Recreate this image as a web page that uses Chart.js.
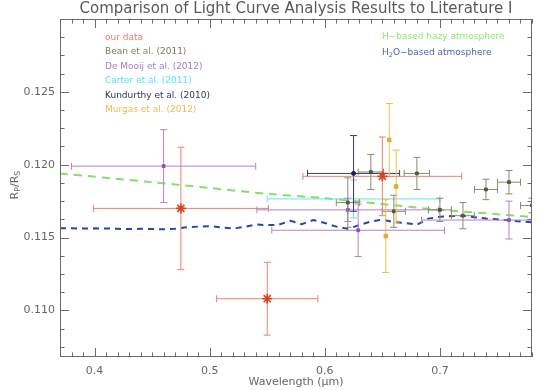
<!DOCTYPE html>
<html>
<head>
<meta charset="utf-8">
<script src="https://cdn.jsdelivr.net/npm/chart.js@4/dist/chart.umd.min.js"></script>
<style>
  html, body { margin: 0; padding: 0; background: #fff; }
  #wrap { width: 541px; height: 390px; }
</style>
</head>
<body>
<div id="wrap"><canvas id="myChart" width="541" height="390"></canvas></div>
<script>
// axis ranges and ticks
const xRange = [0.37, 0.78];
const yRange = [0.1068, 0.1300];
const xMajor = [0.4, 0.5, 0.6, 0.7];
const yMajor = [0.110, 0.115, 0.120, 0.125];
const xMinorStep = 0.01;
const yMinorStep = 0.00125;

// our data
const oursX = [0.475, 0.650, 0.550];
const oursY = [0.1170, 0.1192, 0.1108];
const oursXErr = [0.076, 0.069, 0.044];
const oursYErr = [0.0042, 0.0027, 0.0025];

// Bean et al. (2011)
const beanX = [0.640, 0.680, 0.620, 0.660, 0.700, 0.720, 0.740, 0.760, 0.780];
const beanY = [0.1195, 0.1194, 0.1174, 0.1168, 0.1169, 0.1165, 0.1183, 0.1188, 0.1172];
const beanXErr = [0.011, 0.011, 0.010, 0.010, 0.010, 0.010, 0.010, 0.010, 0.010];
const beanYErr = [0.0012, 0.0011, 0.0017, 0.0011, 0.0008, 0.0009, 0.0007, 0.0008, 0.0005];

// De Mooij et al. (2012)
const mooijX = [0.460, 0.620, 0.629, 0.760];
const mooijY = [0.1199, 0.1169, 0.1155, 0.1162];
const mooijXErr = [0.080, 0.079, 0.075, 0.076];
const mooijYErr = [0.0025, 0.0008, 0.0018, 0.0013];

// Carter et al. (2011)
const carterX = [0.625];
const carterY = [0.11765];
const carterXErr = [0.075];
const carterYErr = [0.0013];

// Kundurthy et al. (2010)
const kundX = [0.625];
const kundY = [0.1194];
const kundXErr = [0.040];
const kundYErr = [0.0026];

// Murgas et al. (2012)
const murgasX = [0.656, 0.662, 0.653];
const murgasY = [0.1217, 0.1185, 0.1151];
const murgasXErr = [0, 0, 0];
const murgasYErr = [0.0025, 0.0025, 0.0025];

// model curves
const hazyX = [0.37, 0.45, 0.50, 0.55, 0.60, 0.65, 0.70, 0.75, 0.78];
const hazyY = [0.1194, 0.1188, 0.1184, 0.1180, 0.1177, 0.1173, 0.1169, 0.1166, 0.1164];

const waterX = [0.37, 0.38, 0.39, 0.40, 0.41, 0.42, 0.43, 0.44, 0.45, 0.46, 0.47, 0.48, 0.49, 0.50,
    0.51, 0.52, 0.53, 0.54, 0.55, 0.56, 0.57, 0.58, 0.59, 0.60, 0.61, 0.62, 0.63, 0.64, 0.65, 0.66,
    0.67, 0.68, 0.69, 0.70, 0.71, 0.72, 0.73, 0.74, 0.75, 0.76, 0.77, 0.78];
const waterY = [0.11563, 0.11563, 0.11562, 0.11563, 0.11562, 0.11560, 0.11558, 0.11560, 0.11558,
    0.11557, 0.11560, 0.11570, 0.11575, 0.11578, 0.11570, 0.11562, 0.11572, 0.11590, 0.11585,
    0.11588, 0.11615, 0.11592, 0.11620, 0.11600, 0.11575, 0.11560, 0.11585, 0.11610, 0.11622,
    0.11605, 0.11600, 0.11588, 0.11630, 0.11642, 0.11648, 0.11650, 0.11640, 0.11630, 0.11625,
    0.11618, 0.11610, 0.11605];

const FONT = '"DejaVu Sans", sans-serif';

function pts(xs, ys) {
    return xs.map((x, i) => ({ x: x, y: ys[i] }));
}

function errSeries(label, xs, ys, xe, ye, barColor, pointColor, style, radius, order) {
    return {
        label: label,
        data: pts(xs, ys),
        xErr: xe,
        yErr: ye,
        barColor: barColor,
        pointStyle: style,
        pointRadius: radius,
        backgroundColor: pointColor,
        borderColor: pointColor,
        borderWidth: style === 'star' ? 1.6 : 1,
        showLine: false,
        order: order
    };
}

// draws the error bars of a dataset just before its points
const errorBarPlugin = {
    id: 'errorBars',
    beforeDatasetDraw(chart, args) {
        const ds = chart.data.datasets[args.index];
        if (!ds.xErr) return;
        const ctx = chart.ctx;
        const a = chart.chartArea;
        const sx = chart.scales.x, sy = chart.scales.y;
        const cap = 3.5;
        ctx.save();
        ctx.beginPath();
        ctx.rect(a.left, a.top, a.right - a.left, a.bottom - a.top);
        ctx.clip();
        ctx.strokeStyle = ds.barColor;
        ctx.lineWidth = 1;
        ds.data.forEach((p, i) => {
            const px = sx.getPixelForValue(p.x);
            const py = sy.getPixelForValue(p.y);
            const xe = ds.xErr[i], ye = ds.yErr[i];
            ctx.beginPath();
            if (xe > 0) {
                const x1 = sx.getPixelForValue(p.x - xe);
                const x2 = sx.getPixelForValue(p.x + xe);
                ctx.moveTo(x1, py); ctx.lineTo(x2, py);
                ctx.moveTo(x1, py - cap); ctx.lineTo(x1, py + cap);
                ctx.moveTo(x2, py - cap); ctx.lineTo(x2, py + cap);
            }
            if (ye > 0) {
                const y1 = sy.getPixelForValue(p.y - ye);
                const y2 = sy.getPixelForValue(p.y + ye);
                ctx.moveTo(px, y1); ctx.lineTo(px, y2);
                ctx.moveTo(px - cap, y1); ctx.lineTo(px + cap, y1);
                ctx.moveTo(px - cap, y2); ctx.lineTo(px + cap, y2);
            }
            ctx.stroke();
        });
        ctx.restore();
    }
};

// text with optional subscripts: parts = [[text, isSub], ...]
function drawParts(ctx, parts, x, y, size, align) {
    const subSize = size * 0.72;
    let total = 0;
    parts.forEach(([t, sub]) => {
        ctx.font = (sub ? subSize : size) + 'px ' + FONT;
        total += ctx.measureText(t).width;
    });
    let cx = align === 'center' ? x - total / 2 : x;
    ctx.textAlign = 'left';
    parts.forEach(([t, sub]) => {
        ctx.font = (sub ? subSize : size) + 'px ' + FONT;
        ctx.fillText(t, cx, sub ? y + size * 0.3 : y);
        cx += ctx.measureText(t).width;
    });
}

// IDL style frame: inward ticks on all four sides, labels, titles, legend text
const framePlugin = {
    id: 'idlFrame',
    afterDraw(chart) {
        const ctx = chart.ctx;
        const a = chart.chartArea;
        const sx = chart.scales.x, sy = chart.scales.y;
        const major = 9, minor = 4.5;
        ctx.save();
        ctx.strokeStyle = '#6a6a6a';
        ctx.lineWidth = 1;
        ctx.strokeRect(a.left + 0.5, a.top + 0.5, a.right - a.left - 1, a.bottom - a.top - 1);

        ctx.beginPath();
        for (let k = Math.ceil(xRange[0] / xMinorStep - 1e-6); k * xMinorStep <= xRange[1] + 1e-9; k++) {
            const v = k * xMinorStep;
            const isMajor = xMajor.some(m => Math.abs(m - v) < 1e-6);
            const len = isMajor ? major : minor;
            const px = Math.round(sx.getPixelForValue(v)) + 0.5;
            ctx.moveTo(px, a.bottom); ctx.lineTo(px, a.bottom - len);
            ctx.moveTo(px, a.top); ctx.lineTo(px, a.top + len);
        }
        for (let k = Math.ceil(yRange[0] / yMinorStep - 1e-6); k * yMinorStep <= yRange[1] + 1e-9; k++) {
            const v = k * yMinorStep;
            const isMajor = yMajor.some(m => Math.abs(m - v) < 1e-7);
            const len = isMajor ? major : minor;
            const py = Math.round(sy.getPixelForValue(v)) + 0.5;
            ctx.moveTo(a.left, py); ctx.lineTo(a.left + len, py);
            ctx.moveTo(a.right, py); ctx.lineTo(a.right - len, py);
        }
        ctx.stroke();

        // tick labels
        ctx.fillStyle = '#666';
        ctx.font = '11px ' + FONT;
        ctx.textBaseline = 'middle';
        ctx.textAlign = 'center';
        xMajor.forEach(v => ctx.fillText(v.toFixed(1), sx.getPixelForValue(v), a.bottom + 14));
        ctx.textAlign = 'right';
        yMajor.forEach(v => ctx.fillText(v.toFixed(3), a.left - 5, sy.getPixelForValue(v)));

        // titles
        ctx.textAlign = 'center';
        ctx.font = '15px ' + FONT;
        ctx.fillStyle = '#5a5a5a';
        ctx.fillText('Comparison of Light Curve Analysis Results to Literature I', 296, 9);
        ctx.fillStyle = '#666';
        drawParts(ctx, [['Wavelength (', false], ['μ', false], ['m)', false]], 296, 382, 11, 'center');
        ctx.save();
        ctx.translate(15, 185);
        ctx.rotate(-Math.PI / 2);
        drawParts(ctx, [['R', false], ['P', true], ['/R', false], ['S', true]], 0, 0, 11, 'center');
        ctx.restore();

        // legend text
        const left = [
            ['our data', '#e8806a'],
            ['Bean et al. (2011)', '#7d7d62'],
            ['De Mooij et al. (2012)', '#a67ad6'],
            ['Carter et al. (2011)', '#52e4ee'],
            ['Kundurthy et al. (2010)', '#33315f'],
            ['Murgas et al. (2012)', '#eebc52']
        ];
        left.forEach(([t, c], i) => {
            ctx.fillStyle = c;
            drawParts(ctx, [[t, false]], 105, 37.5 + i * 14.5, 9, 'left');
        });
        ctx.fillStyle = '#8ee870';
        drawParts(ctx, [['H−based hazy atmosphere', false]], 382, 37, 9, 'left');
        ctx.fillStyle = '#4a5ec4';
        drawParts(ctx, [['H', false], ['2', true], ['O−based atmosphere', false]], 382, 52.3, 9, 'left');
        ctx.restore();
    }
};

const ctx = document.getElementById('myChart');
const myChart = new Chart(ctx, {
    type: 'scatter',
    data: {
        datasets: [
            {
                label: 'H-based hazy atmosphere',
                data: pts(hazyX, hazyY),
                showLine: true,
                borderColor: '#86e062',
                borderWidth: 2,
                borderDash: [8, 6],
                pointRadius: 0,
                tension: 0.3,
                order: 10
            },
            {
                label: 'H2O-based atmosphere',
                data: pts(waterX, waterY),
                showLine: true,
                borderColor: '#2546b0',
                borderWidth: 2,
                borderDash: [6, 5],
                pointRadius: 0,
                order: 9
            },
            errSeries('Carter et al. (2011)', carterX, carterY, carterXErr, carterYErr, '#60e6f0', '#60e6f0', 'circle', 0, 7),
            errSeries('De Mooij et al. (2012)', mooijX, mooijY, mooijXErr, mooijYErr, '#ad84dc', '#8a50c8', 'rect', 2, 6),
            errSeries('Bean et al. (2011)', beanX, beanY, beanXErr, beanYErr, '#8a8a70', '#4f5a3e', 'rect', 2, 5),
            errSeries('Kundurthy et al. (2010)', kundX, kundY, kundXErr, kundYErr, '#3a3a78', '#1c1c5a', 'circle', 2, 4),
            errSeries('Murgas et al. (2012)', murgasX, murgasY, murgasXErr, murgasYErr, '#f2c048', '#eaa830', 'rect', 2.5, 3),
            errSeries('our data', oursX, oursY, oursXErr, oursYErr, '#e5836e', '#e2401c', 'star', 5, 0)
        ]
    },
    options: {
        responsive: false,
        animation: false,
        devicePixelRatio: 1,
        layout: { padding: { left: 60, right: 9, top: 19, bottom: 33 } },
        scales: {
            x: { type: 'linear', min: xRange[0], max: xRange[1], display: false },
            y: { type: 'linear', min: yRange[0], max: yRange[1], display: false }
        },
        plugins: {
            legend: { display: false },
            tooltip: { enabled: false },
            title: { display: false }
        }
    },
    plugins: [errorBarPlugin, framePlugin]
});
</script>
</body>
</html>
